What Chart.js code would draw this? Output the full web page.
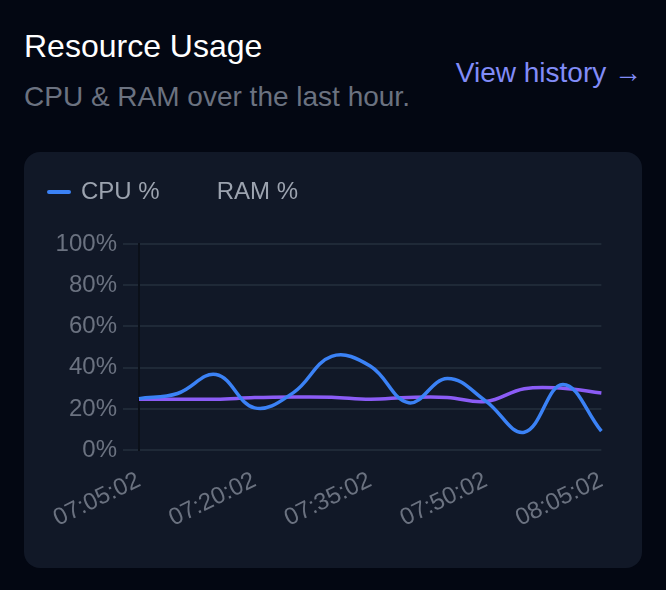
<!DOCTYPE html>
<html>
<head>
<meta charset="utf-8">
<script src="https://cdn.jsdelivr.net/npm/chart.js@4"></script>
<style>
  html, body { margin: 0; padding: 0; }
  body {
    width: 666px; height: 590px; overflow: hidden;
    background: #030712;
    font-family: "Liberation Sans", Arial, sans-serif;
  }
  .head { position: absolute; left: 24px; top: 0; width: 618px; }
  .title { position: absolute; left: 0; top: 28px; font-size: 32px; color: #ffffff; white-space: nowrap; }
  .sub { position: absolute; left: 0; top: 81px; font-size: 28px; color: #6b7280; white-space: nowrap; }
  .link { position: absolute; right: 0; top: 57px; font-size: 28px; color: #818cf8; white-space: nowrap; }
  .card {
    position: absolute; left: 24px; top: 152px; width: 618px; height: 416px;
    background: #111827; border-radius: 16px;
  }
  .wrap { position: absolute; left: 0; top: 3px; width: 598px; height: 386px; }
</style>
</head>
<body>
<div class="head">
  <div class="title">Resource Usage</div>
  <div class="sub">CPU &amp; RAM over the last hour.</div>
  <div class="link">View history →</div>
</div>
<div class="card">
  <div class="wrap"><canvas id="grafico"></canvas></div>
</div>
<script>
const horarios = ['07:05:02','07:10:02','07:15:02','07:20:02','07:25:02','07:30:02','07:35:02',
                  '07:40:02','07:45:02','07:50:02','07:55:02','08:00:02','08:05:02'];
const cpu = [25, 27.5, 36.7, 20.5, 27.8, 45.5, 40.8, 23, 34.8, 23.8, 8.7, 31.9, 9.2];
const ram = [24.7, 24.7, 24.7, 25.5, 25.8, 25.7, 24.7, 25.6, 25.6, 23.6, 29.8, 30, 27.7];
const yTicks = [0, 20, 40, 60, 80, 100];

const fonte = '"Liberation Sans", Arial, sans-serif';

// espaço extra entre a legenda e o gráfico
const espacoLegenda = {
  id: 'espacoLegenda',
  beforeInit(chart) {
    const fit = chart.legend.fit;
    chart.legend.fit = function () {
      fit.bind(chart.legend)();
      this.height += 30;
    };
  }
};

new Chart(document.getElementById('grafico'), {
  type: 'line',
  data: {
    labels: horarios,
    datasets: [{
      label: 'CPU %',
      data: cpu,
      borderColor: '#3b82f6',
      backgroundColor: '#3b82f6',
      borderWidth: 3.5,
      tension: 0.4,
      pointRadius: 0
    }, {
      label: 'RAM %',
      data: ram,
      borderColor: '#8b5cf6',
      backgroundColor: 'transparent',
      borderWidth: 3.5,
      tension: 0.4,
      pointRadius: 0
    }]
  },
  plugins: [espacoLegenda],
  options: {
    responsive: true,
    maintainAspectRatio: false,
    animation: false,
    plugins: {
      tooltip: { enabled: false },
      legend: {
        align: 'start',
        labels: {
          color: '#9ca3af',
          font: { size: 24, family: fonte },
          boxWidth: 20,
          boxHeight: 0,
          padding: 25,
          generateLabels: chart => chart.data.datasets.map((d, i) => ({
            text: d.label,
            fillStyle: d.backgroundColor,
            strokeStyle: d.backgroundColor,
            lineWidth: i === 0 ? 4 : 0,
            lineJoin: 'round',
            lineCap: 'round',
            fontColor: '#9ca3af',
            datasetIndex: i
          }))
        }
      }
    },
    scales: {
      x: {
        grid: { display: false },
        border: { display: false },
        ticks: {
          color: '#6b7280',
          padding: 8,
          font: { size: 24, family: fonte },
          autoSkip: false,
          minRotation: 26,
          maxRotation: 26,
          callback: (v, i) => i % 3 === 0 ? horarios[i] : null
        }
      },
      y: {
        min: 0,
        max: 100,
        afterBuildTicks: axis => { axis.ticks = yTicks.map(v => ({ value: v })); },
        afterFit: axis => { axis.width = 115; },
        grid: { color: '#1f2937', lineWidth: 2, tickLength: 16 },
        border: { color: '#0b1019', width: 2 },
        ticks: {
          color: '#6b7280',
          padding: 6,
          font: { size: 24, family: fonte },
          callback: v => v + '%'
        }
      }
    }
  }
});
</script>
</body>
</html>
